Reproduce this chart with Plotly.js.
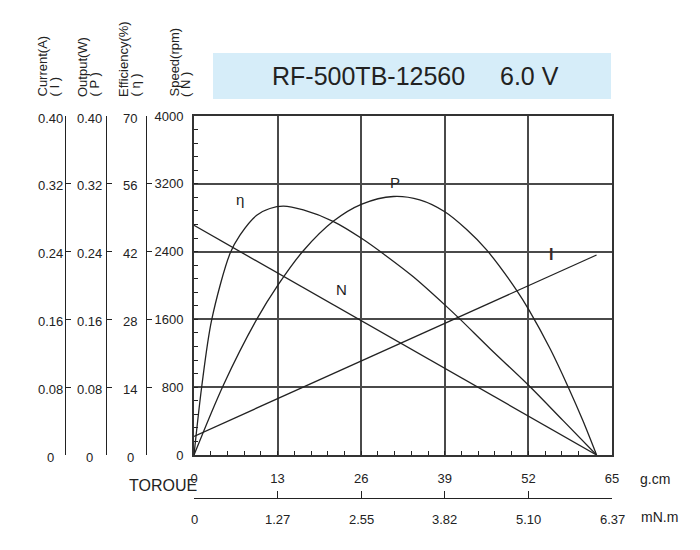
<!DOCTYPE html>
<html>
<head>
<meta charset="utf-8">
<script src="https://cdn.plot.ly/plotly-3.0.1.min.js"></script>
<style>
  html, body { margin: 0; padding: 0; background: #fff; }
  #chart { width: 700px; height: 550px; }
</style>
</head>
<body>
<div id="chart"></div>
<script>
// --- data (torque in g.cm) ---
const torqueLine = [0, 62.6];
const speedRpm = [2710, 0];
const currentA = [0.022, 0.236];

const torqueP = [0, 4.6, 9.75, 13.1, 17.0, 21.7, 26.1, 31.0, 35.1, 39.0, 42.4, 45.5, 50.2, 52.1, 55.4, 58.2, 60.5, 62.6];
const outputW = [0, 0.083, 0.160, 0.201, 0.241, 0.276, 0.296, 0.305, 0.301, 0.287, 0.266, 0.242, 0.194, 0.171, 0.125, 0.080, 0.040, 0];

const torqueEff = [0, 1.2, 2.75, 5.6, 7.15, 9.75, 11.8, 13.9, 17.0, 21.7, 26.1, 30.0, 34.1, 39.0, 41.4, 46.0, 52.1, 57.4, 62.6];
const efficiency = [0, 14.1, 27.9, 41.6, 45.4, 49.5, 50.9, 51.4, 50.6, 48.2, 44.7, 41.0, 36.8, 31.0, 28.0, 22.0, 14.3, 7.1, 0];

// tick labels
const gcmTicks = [0, 13, 26, 39, 52, 65];
const mNmLabels = ['0', '1.27', '2.55', '3.82', '5.10', '6.37'];
const rpmTicks = [0, 800, 1600, 2400, 3200, 4000];
const ampTicks = [0, 0.08, 0.16, 0.24, 0.32, 0.40];
const ampLabels = ['0', '0.08', '0.16', '0.24', '0.32', '0.40'];
const wattTicks = [0, 0.08, 0.16, 0.24, 0.32, 0.40];
const wattLabels = ['0', '0.08', '0.16', '0.24', '0.32', '0.40'];
const effTicks = [0, 14, 28, 42, 56, 70];

const FONT = 'Liberation Sans, Arial, sans-serif';
const INK = '#222';

// pixel -> paper helpers (margins l=20, r=88, t=116, b=20)
const ML = 20, MT = 116, PW = 700 - 20 - 88, PH = 550 - 116 - 20;
const px = x => (x - ML) / PW;
const py = y => (MT + PH - y) / PH;

const curveLine = { color: INK, width: 1.3 };
const smoothLine = Object.assign({ shape: 'spline', smoothing: 0.9 }, curveLine);

const traces = [
  { x: torqueLine, y: speedRpm, xaxis: 'x', yaxis: 'y', mode: 'lines', line: curveLine, name: 'N' },
  { x: torqueLine, y: currentA, xaxis: 'x', yaxis: 'y2', mode: 'lines', line: curveLine, name: 'I' },
  { x: torqueP, y: outputW, xaxis: 'x', yaxis: 'y3', mode: 'lines', line: smoothLine, name: 'P' },
  { x: torqueEff, y: efficiency, xaxis: 'x', yaxis: 'y4', mode: 'lines', line: smoothLine, name: 'η' },
  // keeps the second torque scale alive
  { x: [0, 65], y: [0, 0], xaxis: 'x2', yaxis: 'y', mode: 'none', hoverinfo: 'skip' }
];

const sideAxis = (pos, range, vals) => ({
  overlaying: 'y', anchor: 'free', position: pos, side: 'left',
  domain: [py(455), 1], range: range, tickvals: vals,
  showticklabels: false, showgrid: false, zeroline: false,
  showline: true, linecolor: INK, linewidth: 1,
  ticks: 'inside', ticklen: 5, tickcolor: INK, tickwidth: 1
});

const annotations = [];
function note(text, x, y, opts) {
  annotations.push(Object.assign({
    text: text, x: x, y: y, xref: 'paper', yref: 'paper', showarrow: false,
    xanchor: 'center', yanchor: 'middle',
    font: { family: FONT, size: 13, color: INK }
  }, opts || {}));
}

// rotated axis titles
[['Current(A)', 42], ['( I )', 53.5], ['Output(W)', 82], ['( P )', 93.5],
 ['Efficiency(%)', 123], ['( η )', 135], ['Speed(rpm)', 174], ['( N )', 185.5]]
  .forEach(([t, x]) => note(t, px(x), py(99), { textangle: -90, yanchor: 'bottom' }));

// left scale labels (centered under each other)
ampTicks.forEach((v, i) => note(ampLabels[i], px(50), v, { yref: 'y2', yshift: -2 }));
wattTicks.forEach((v, i) => note(wattLabels[i], px(89), v, { yref: 'y3', yshift: -2 }));
effTicks.forEach(v => note(String(v), px(130), v, { yref: 'y4', yshift: -2 }));

// second torque scale labels
gcmTicks.forEach((v, i) => note(mNmLabels[i], v, py(519), { xref: 'x' }));

note('g.cm', px(655), py(479), { font: { family: FONT, size: 14, color: INK } });
note('mN.m', px(659), py(517), { font: { family: FONT, size: 14, color: INK } });
note('TOROUE', px(163), py(485), { font: { family: FONT, size: 16, color: INK } });

// title
note('RF-500TB-12560', px(368), py(76), { font: { family: FONT, size: 25, color: INK } });
note('6.0 V', px(529), py(76), { font: { family: FONT, size: 25, color: INK } });

// curve labels
const curveFont = { family: FONT, size: 15, color: INK };
note('η', 7.15, 3020, { xref: 'x', yref: 'y', font: curveFont });
note('P', 31.3, 3210, { xref: 'x', yref: 'y', font: curveFont });
note('N', 22.9, 1950, { xref: 'x', yref: 'y', font: curveFont });
note('<b>I</b>', 55.5, 2370, { xref: 'x', yref: 'y', font: { family: FONT, size: 16, color: '#3a2a2a' } });

const layout = {
  width: 700, height: 550,
  margin: { l: ML, r: 88, t: MT, b: 20 },
  paper_bgcolor: '#fff', plot_bgcolor: '#fff',
  showlegend: false,
  font: { family: FONT, size: 13, color: INK },
  xaxis: {
    domain: [px(194), 1], range: [0, 65], anchor: 'y',
    tickvals: gcmTicks, ticks: 'inside', ticklen: 4, tickcolor: INK,
    ticklabelstandoff: 10, tickfont: { family: FONT, size: 13, color: INK },
    showgrid: true, gridcolor: '#4a4a4a', gridwidth: 2, zeroline: false,
    showline: true, mirror: true, linecolor: '#333', linewidth: 2,
    minor: { dtick: 2.6, tick0: 0, ticks: 'inside', ticklen: 4, tickcolor: INK, tickwidth: 1, showgrid: false }
  },
  xaxis2: {
    overlaying: 'x', anchor: 'free', position: py(497.5), side: 'bottom',
    domain: [px(194), 1], range: [0, 65], tickvals: gcmTicks,
    ticks: 'inside', ticklen: 7, tickcolor: INK, tickwidth: 1,
    showticklabels: false, showgrid: false, zeroline: false,
    showline: true, linecolor: INK, linewidth: 1
  },
  yaxis: {
    domain: [py(455), 1], range: [0, 4000], anchor: 'x',
    tickvals: rpmTicks, ticks: 'inside', ticklen: 4, tickcolor: INK,
    ticklabelstandoff: 6, tickfont: { family: FONT, size: 13, color: INK },
    showgrid: true, gridcolor: '#4a4a4a', gridwidth: 2, zeroline: false,
    showline: true, mirror: true, linecolor: '#333', linewidth: 2,
    minor: { dtick: 160, tick0: 0, ticks: 'inside', ticklen: 4, tickcolor: INK, tickwidth: 1, showgrid: false }
  },
  yaxis2: sideAxis(px(65), [0, 0.4], ampTicks),
  yaxis3: sideAxis(px(106), [0, 0.4], wattTicks),
  yaxis4: sideAxis(px(146), [0, 70], effTicks),
  shapes: [{
    type: 'rect', xref: 'paper', yref: 'paper', layer: 'below',
    x0: px(213), x1: px(611), y0: py(99), y1: py(53),
    fillcolor: '#d6edf9', line: { width: 0 }
  }],
  annotations: annotations
};

Plotly.newPlot('chart', traces, layout, { displayModeBar: false, responsive: false });
</script>
</body>
</html>
